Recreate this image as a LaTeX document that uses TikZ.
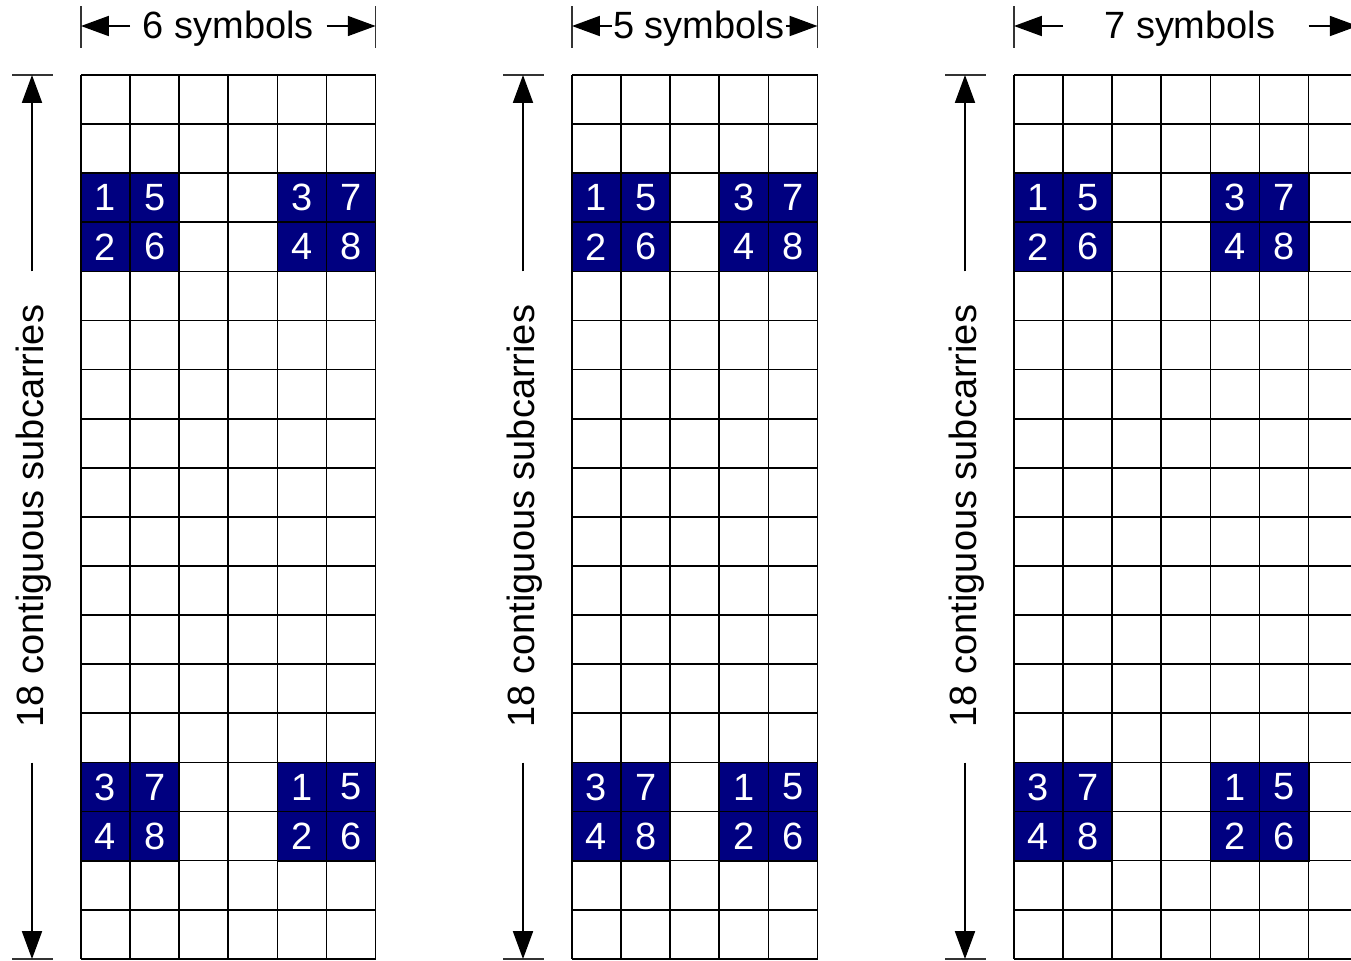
\documentclass[tikz,border=0pt]{standalone}
\usepackage{fontspec}
\setmainfont{Liberation Sans}
\usepackage{xcolor}
\usetikzlibrary{arrows.meta}
\definecolor{slotblue}{HTML}{000080}
\tikzset{
  gridline/.style={line width=0.5pt},
  slotbox/.style={draw, line width=0.5pt, fill=slotblue, text=white, minimum size=4.91mm,
    inner sep=0pt, font=\fontsize{10.8}{12}\selectfont},
  dimarrow/.style={-{Triangle[length=7.9pt, width=5.7pt]}, line width=0.4pt},
  dimtick/.style={line width=0.4pt, draw=black!80},
  dimlabel/.style={font=\fontsize{10.8}{12}\selectfont, fill=white, inner sep=0.5pt, anchor=base},
}

\begin{document}
\begin{tikzpicture}[x=0.01cm, y=-0.01cm]
  \useasboundingbox (0,0) rectangle (1351,960);
  \clip (0,0) rectangle (1351,960);
  \foreach \xo/\nc/\rc/\dx [count=\p] in {81/6/4/0, 572/5/3/4, 1014/7/4/4} {
    % resource grid
    \foreach \i in {0,...,\nc} \draw[gridline] (\xo+\i*49.1,75) -- (\xo+\i*49.1,959);
    \foreach \j in {0,...,18} \draw[gridline] (\xo,75+\j*49.1) -- (\xo+\nc*49.1,75+\j*49.1);
    \foreach \bc/\br/\bn [count=\b] in {0/2/1, \rc/2/3, 0/14/3, \rc/14/1} {
      \foreach \dc/\dr/\dn in {0/0/0, 0/1/1, 1/0/4, 1/1/5} {
        \pgfmathtruncatemacro\num{\bn+\dn}
        \node[slotbox] (s\p-\b-\num) at (\xo+\bc*49.1+\dc*49.1+24.55, 75+\br*49.1+\dr*49.1+24.55) {\num};
      }
    }
    % symbols
    \coordinate (tl\p) at (\xo,26);
    \coordinate (tla\p) at (\xo+49,26);
    \coordinate (tr\p) at (\xo+\nc*49.1,26);
    \coordinate (tra\p) at (\xo+\nc*49.1-49,26);
    \draw[dimtick] (\xo,6) -- (\xo,48);
    \draw[dimtick] (\xo+\nc*49.1,6) -- (\xo+\nc*49.1,48);
    \draw[dimarrow] (tla\p) -- (tl\p);
    \draw[dimarrow] (tra\p) -- (tr\p);
    \node[dimlabel] (sym\p) at (\xo+\nc*24.55+\dx,38) {\nc\ symbols};
    % subcarriers
    \coordinate (vt\p) at (\xo-49,75);
    \coordinate (vta\p) at (\xo-49,75+4*49.1);
    \coordinate (vb\p) at (\xo-49,959);
    \coordinate (vba\p) at (\xo-49,959-4*49.1);
    \draw[dimtick] (\xo-69,75) -- (\xo-28,75);
    \draw[dimtick] (\xo-69,959) -- (\xo-28,959);
    \draw[dimarrow] (vta\p) -- (vt\p);
    \draw[dimarrow] (vba\p) -- (vb\p);
    \node[dimlabel, fill=none, rotate=90] (sub\p) at (\xo-49+11.5,516) {18 contiguous subcarries};
  }
\end{tikzpicture}
\end{document}
